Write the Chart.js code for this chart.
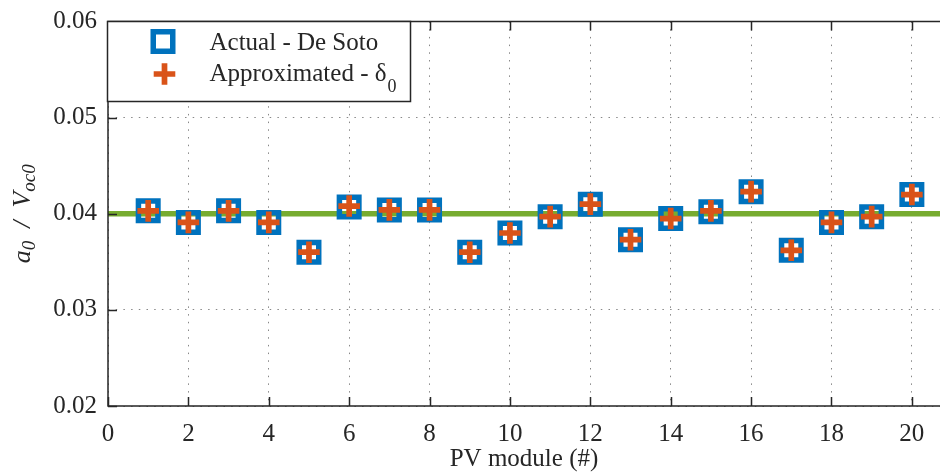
<!DOCTYPE html>
<html>
<head>
<meta charset="utf-8">
<title>a0 / Voc0 per PV module</title>
<script src="https://cdn.jsdelivr.net/npm/chart.js@4.4.0/dist/chart.umd.min.js"></script>
<style>
  html, body { margin: 0; padding: 0; background: #fff; }
  #wrap { width: 940px; height: 473px; }
</style>
</head>
<body>
<div id="wrap"><canvas id="chart" width="940" height="473"></canvas></div>
<script>
// ---------- DATA ----------
const modules      = [1, 2, 3, 4, 5, 6, 7, 8, 9, 10, 11, 12, 13, 14, 15, 16, 17, 18, 19, 20];
const actualDeSoto = [0.0403, 0.0391, 0.0403, 0.0391, 0.0360, 0.0407, 0.0404, 0.0404, 0.0360, 0.0380,
                      0.0397, 0.0410, 0.0373, 0.0395, 0.0402, 0.0423, 0.0362, 0.0391, 0.0397, 0.0420];
const approxDelta0 = [0.0403, 0.0391, 0.0403, 0.0391, 0.0360, 0.0408, 0.0404, 0.0404, 0.0360, 0.0380,
                      0.0397, 0.0410, 0.0373, 0.0395, 0.0403, 0.0423, 0.0362, 0.0391, 0.0397, 0.0420];
const refLevel = [0.04, 0.04];
const refSpan  = [0, 20.7];

const xTicks = [0, 2, 4, 6, 8, 10, 12, 14, 16, 18, 20];
const yTicks = [0.02, 0.03, 0.04, 0.05, 0.06];

// ---------- STYLE ----------
const SERIF = "'Liberation Serif', 'Times New Roman', serif";
const INK   = "#262626";
const BLUE  = "#0072BD";
const ORNG  = "#D95319";
const GREEN = "#77AC30";
const DOTS  = "rgba(38,38,38,0.55)";

const pts = (xs, ys) => xs.map((x, i) => ({ x, y: ys[i] }));

// frame + inward ticks (MATLAB box style)
const framePlugin = {
  id: "frame",
  afterDatasetsDraw(chart) {
    const { ctx, chartArea: a, scales: { x, y } } = chart;
    ctx.save();
    ctx.strokeStyle = INK;
    ctx.lineWidth = 1.5;
    ctx.beginPath();
    ctx.moveTo(a.right + 2, a.top);
    ctx.lineTo(a.left, a.top);
    ctx.lineTo(a.left, a.bottom);
    ctx.lineTo(a.right + 2, a.bottom);
    ctx.stroke();

    ctx.beginPath();
    xTicks.forEach(v => {
      const px = Math.round(x.getPixelForValue(v)) + 0.5;
      ctx.moveTo(px, a.bottom); ctx.lineTo(px, a.bottom - 9);
      ctx.moveTo(px, a.top);    ctx.lineTo(px, a.top + 9);
    });
    yTicks.forEach(v => {
      const py = Math.round(y.getPixelForValue(v)) + 0.5;
      ctx.moveTo(a.left, py); ctx.lineTo(a.left + 9, py);
    });
    ctx.stroke();
    ctx.restore();
  }
};

// legend box with the subscripted delta
const legendPlugin = {
  id: "boxLegend",
  afterDraw(chart) {
    const { ctx } = chart;
    ctx.save();
    ctx.fillStyle = "#fff";
    ctx.fillRect(107.5, 21.5, 303, 80);
    ctx.strokeStyle = INK;
    ctx.lineWidth = 1.5;
    ctx.strokeRect(107.5, 21.5, 303, 80);

    // square marker
    ctx.strokeStyle = BLUE;
    ctx.lineWidth = 5.5;
    ctx.strokeRect(163 - 9.75, 41.5 - 9.75, 19.5, 19.5);

    // cross marker
    ctx.strokeStyle = ORNG;
    ctx.lineWidth = 5.7;
    ctx.beginPath();
    ctx.moveTo(164.5 - 10.8, 74); ctx.lineTo(164.5 + 10.8, 74);
    ctx.moveTo(164.5, 74 - 10.8); ctx.lineTo(164.5, 74 + 10.8);
    ctx.stroke();

    ctx.fillStyle = INK;
    ctx.textBaseline = "alphabetic";
    ctx.font = `25px ${SERIF}`;
    ctx.fillText("Actual - De Soto", 209.5, 49.5);
    const main = "Approximated - \u03b4";
    ctx.fillText(main, 209.5, 81);
    const w = ctx.measureText(main).width;
    ctx.font = `18px ${SERIF}`;
    ctx.fillText("0", 209.5 + w + 1, 92);
    ctx.restore();
  }
};

// y axis title: a_0 / V_oc0
const yTitlePlugin = {
  id: "yTitle",
  afterDraw(chart) {
    const { ctx, chartArea: a } = chart;
    const parts = [
      { t: "a",   f: `italic 26px ${SERIF}`, dy: 0 },
      { t: "0",   f: `italic 19px ${SERIF}`, dy: 5 },
      { t: "  /  ", f: `italic 26px ${SERIF}`, dy: 0 },
      { t: "V",   f: `italic 26px ${SERIF}`, dy: 0 },
      { t: "oc0", f: `italic 19px ${SERIF}`, dy: 5 }
    ];
    ctx.save();
    let total = 0;
    parts.forEach(p => { ctx.font = p.f; p.w = ctx.measureText(p.t).width; total += p.w; });
    ctx.translate(30, (a.top + a.bottom) / 2);
    ctx.rotate(-Math.PI / 2);
    ctx.fillStyle = INK;
    ctx.textBaseline = "alphabetic";
    let cx = -total / 2;
    parts.forEach(p => {
      ctx.font = p.f;
      ctx.fillText(p.t, cx, p.dy);
      cx += p.w;
    });
    ctx.restore();
  }
};

const ctx = document.getElementById("chart").getContext("2d");

new Chart(ctx, {
  type: "scatter",
  data: {
    datasets: [
      {
        label: "Actual - De Soto",
        data: pts(modules, actualDeSoto),
        pointStyle: "rect",
        pointRadius: 13.8,
        pointHoverRadius: 13.8,
        borderWidth: 5.5,
        borderColor: BLUE,
        backgroundColor: "transparent",
        order: 2
      },
      {
        label: "Approximated - \u03b40",
        data: pts(modules, approxDelta0),
        pointStyle: "cross",
        pointRadius: 10.8,
        pointHoverRadius: 10.8,
        borderWidth: 5.7,
        borderColor: ORNG,
        backgroundColor: "transparent",
        order: 1
      },
      {
        type: "line",
        label: "reference",
        data: pts(refSpan, refLevel),
        borderColor: GREEN,
        borderWidth: 5.5,
        pointRadius: 0,
        fill: false,
        order: 3
      }
    ]
  },
  options: {
    responsive: false,
    animation: false,
    devicePixelRatio: 1,
    layout: { autoPadding: false, padding: { top: 21.5, right: 0, bottom: 0, left: 0 } },
    plugins: {
      legend: { display: false },
      tooltip: { enabled: false }
    },
    scales: {
      x: {
        type: "linear",
        min: 0,
        max: refSpan[1],
        afterBuildTicks: s => { s.ticks = xTicks.map(v => ({ value: v })); },
        afterFit: s => { s.height = 67; s.paddingLeft = 0; s.paddingRight = 0; },
        grid: { color: DOTS, lineWidth: 1, drawTicks: false },
        border: { display: false, dash: [1.5, 6.2] },
        ticks: {
          font: { family: SERIF, size: 25 },
          color: INK,
          padding: 13,
          maxRotation: 0,
          autoSkip: false
        },
        title: {
          display: true,
          text: "PV module (#)",
          font: { family: SERIF, size: 25, lineHeight: 1 },
          color: INK,
          padding: { top: 0, bottom: 1 }
        }
      },
      y: {
        type: "linear",
        min: yTicks[0],
        max: yTicks[yTicks.length - 1],
        afterBuildTicks: s => { s.ticks = yTicks.map(v => ({ value: v })); },
        afterFit: s => { s.width = 108; s.paddingTop = 0; s.paddingBottom = 0; },
        grid: { color: DOTS, lineWidth: 1, drawTicks: false },
        border: { display: false, dash: [1.5, 6.2] },
        ticks: {
          font: { family: SERIF, size: 25 },
          color: INK,
          padding: 11,
          callback: v => Number(v).toFixed(2)
        }
      }
    }
  },
  plugins: [framePlugin, legendPlugin, yTitlePlugin]
});
</script>
</body>
</html>
